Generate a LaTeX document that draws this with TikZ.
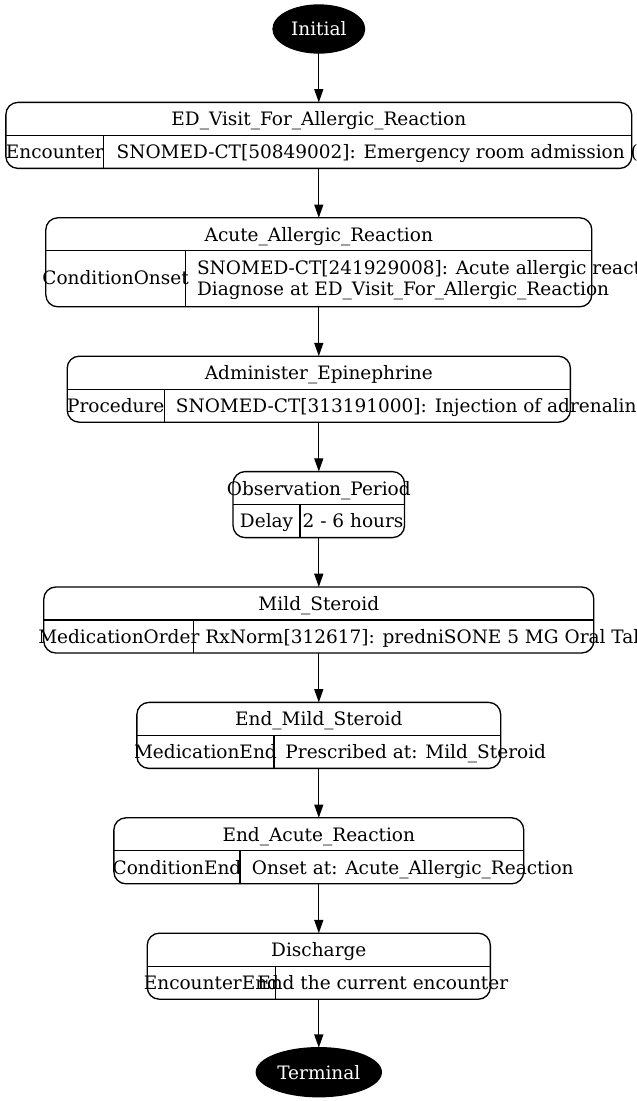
\documentclass[tikz,border=0pt]{standalone}
\usepackage{fontspec}
\setmainfont{DejaVu Serif}
\usetikzlibrary{shapes.geometric,arrows.meta,positioning}
\tikzset{state node/.style={rectangle,draw,rounded corners=12pt,minimum height=66pt,inner sep=0pt,outer sep=0pt},
         end node/.style={ellipse,fill=black,draw,text=white,inner sep=0pt,outer sep=0pt,minimum width=91.6pt,minimum height=48pt},
         cell label/.style={rectangle,draw=none,fill=none,inner sep=0pt,anchor=base},
         value label/.style={rectangle,draw=none,fill=none,inner sep=0pt,anchor=base west}
}

\begin{document}
\begin{tikzpicture}[-,>={Triangle[length=13.3pt,width=9pt]},
x=1pt, y=-1pt,
node distance=49.4pt,
line width=1.33pt,
font=\fontsize{18.5pt}{21.7pt}\selectfont]
\useasboundingbox (0,0) rectangle (637,1101);
\node[end node] (init) at (318.8,29) {Initial};
\node[state node,below=of init,minimum width=625.8pt] (ed) {};
\node[state node,below=of ed,minimum width=546pt,minimum height=89pt] (acute) {};
\node[state node,below=of acute,minimum width=503.2pt] (epi) {};
\node[state node,below=of epi,minimum width=171.5pt] (obs) {};
\node[state node,below=of obs,minimum width=550pt] (ster) {};
\node[state node,below=of ster,minimum width=363.8pt] (endster) {};
\node[state node,below=of endster,minimum width=409.8pt] (endacute) {};
\node[state node,below=of endacute,minimum width=343.1pt] (dis) {};
\node[end node,below=48.5pt of dis,minimum width=125pt,minimum height=49pt] (term) {Terminal};
% title row and cell lines
\foreach \n/\t/\v in {ed/{ED\_Visit\_For\_Allergic\_Reaction}/97.9,
    acute/{Acute\_Allergic\_Reaction}/139.5,
    epi/{Administer\_Epinephrine}/97.1,
    obs/{Observation\_Period}/67,
    ster/{Mild\_Steroid}/150,
    endster/{End\_Mild\_Steroid}/137,
    endacute/{End\_Acute\_Reaction}/126.2,
    dis/{Discharge}/128.4}{
  \node[cell label] at ([yshift=-23.5pt]\n.north) {\t};
  \draw ([yshift=-33pt]\n.north west) -- ([yshift=-33pt]\n.north east);
  \draw ([xshift=\v pt,yshift=-33pt]\n.north west) -- ([xshift=\v pt]\n.south west);
}
\foreach \n/\l/\a/\r/\b in {ed/48.95/Encounter/110.1/{SNOMED-CT[50849002]: Emergency room admission (procedure)},
    epi/48.55/Procedure/108.1/{SNOMED-CT[313191000]: Injection of adrenaline (procedure)},
    obs/33.5/Delay/69/{2 - 6 hours},
    ster/75/MedicationOrder/161/{RxNorm[312617]: predniSONE 5 MG Oral Tablet},
    endster/68.5/MedicationEnd/147.9/{Prescribed at: Mild\_Steroid},
    endacute/63.1/ConditionEnd/137.4/{Onset at: Acute\_Allergic\_Reaction},
    dis/64.2/EncounterEnd/109.4/{End the current encounter}}{
  \node[cell label] at ([xshift=\l pt,yshift=9.8pt]\n.south west) {\a};
  \node[value label] at ([xshift=\r pt,yshift=9.8pt]\n.south west) {\b};
}
\node[cell label] at ([xshift=69.75pt,yshift=22pt]acute.south west) {ConditionOnset};
\node[value label] at ([xshift=150.6pt,yshift=32.7pt]acute.south west) {SNOMED-CT[241929008]: Acute allergic reaction (disorder)};
\node[value label] at ([xshift=150.6pt,yshift=11pt]acute.south west) {Diagnose at ED\_Visit\_For\_Allergic\_Reaction};
% transitions
\foreach \a/\b in {init/ed,ed/acute,acute/epi,epi/obs,obs/ster,ster/endster,endster/endacute,endacute/dis,dis/term}
  \draw[->] (\a) -- (\b);
\end{tikzpicture}
\end{document}
